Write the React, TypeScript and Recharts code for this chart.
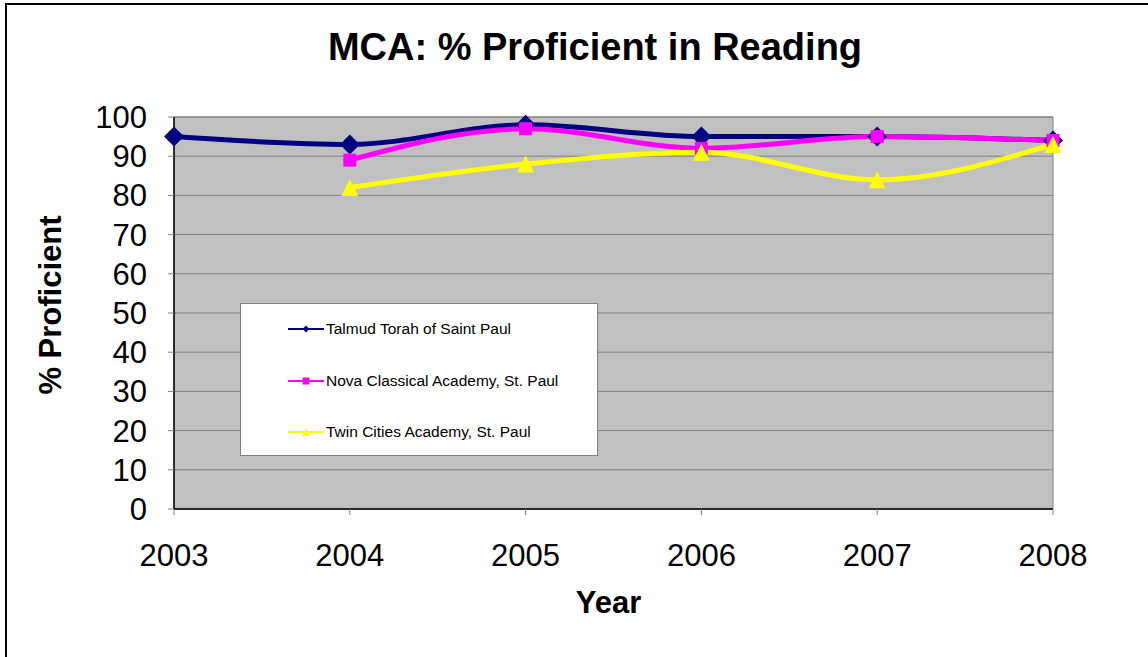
import React from "react"
import {
  CartesianGrid,
  Label,
  Legend,
  Line,
  LineChart,
  ReferenceArea,
  XAxis,
  YAxis,
} from "recharts"

const years = ["2003", "2004", "2005", "2006", "2007", "2008"]
const talmudTorah = [95, 93, 98, 95, 95, 94]
const novaClassical = [null, 89, 97, 92, 95, 94]
const twinCities = [null, 82, 88, 91, 84, 93]
const yTicks = [0, 10, 20, 30, 40, 50, 60, 70, 80, 90, 100]

const seriesInfo = [
  { key: "talmud", name: "Talmud Torah of Saint Paul", color: "#000080", marker: "diamond" },
  { key: "nova", name: "Nova Classical Academy, St. Paul", color: "#FF00FF", marker: "square" },
  { key: "twin", name: "Twin Cities Academy, St. Paul", color: "#FFFF00", marker: "triangle" },
]

const chartData = years.map((year, i) => ({
  year,
  talmud: talmudTorah[i],
  nova: novaClassical[i],
  twin: twinCities[i],
}))

function markerPath(kind: string, cx: number, cy: number, s: number) {
  const h = s / 2
  if (kind === "diamond") return `M${cx},${cy - h}L${cx + h},${cy}L${cx},${cy + h}L${cx - h},${cy}Z`
  if (kind === "square") return `M${cx - h},${cy - h}h${s}v${s}h${-s}Z`
  return `M${cx},${cy - h}L${cx + h},${cy + h}L${cx - h},${cy + h}Z`
}

function makeDot(kind: string, color: string, size: number) {
  return (props: any) => {
    const { cx, cy, index } = props
    if (cx == null || cy == null || props.value == null) return <g key={`d-${kind}-${index}`} />
    return <path key={`d-${kind}-${index}`} d={markerPath(kind, cx, cy, size)} fill={color} />
  }
}

function LegendBox() {
  return (
    <div
      style={{
        width: 358,
        height: 153,
        boxSizing: "border-box",
        background: "#fff",
        border: "1px solid #808080",
        position: "relative",
      }}
    >
      {seriesInfo.map((s, i) => (
        <div
          key={s.key}
          style={{
            position: "absolute",
            left: 47,
            top: 25 + i * 51.5 - 10,
            height: 20,
            display: "flex",
            alignItems: "center",
            fontSize: 15.5,
            color: "#000",
            whiteSpace: "nowrap",
          }}
        >
          <svg width={36} height={12} style={{ marginRight: 2 }}>
            <line x1={0} y1={6} x2={36} y2={6} stroke={s.color} strokeWidth={2} />
            <path d={markerPath(s.marker, 18, 6, s.marker === "triangle" ? 8 : 7)} fill={s.color} />
          </svg>
          {s.name}
        </div>
      ))}
    </div>
  )
}

export default function App() {
  return (
    <div
      style={{
        position: "absolute",
        left: 0,
        top: 0,
        width: 1148,
        height: 657,
        overflow: "hidden",
        background: "#fff",
        fontFamily: "'Liberation Sans', Arial, sans-serif",
      }}
    >
      <div
        style={{
          position: "absolute",
          left: 5,
          top: 3,
          width: 2000,
          height: 2000,
          borderTop: "2px solid #000",
          borderLeft: "2px solid #000",
        }}
      />
      <div
        style={{
          position: "absolute",
          left: 0,
          top: 25,
          width: 1190,
          textAlign: "center",
          fontSize: 38,
          lineHeight: "44px",
          fontWeight: "bold",
          color: "#000",
        }}
      >
        MCA: % Proficient in Reading
      </div>
      <LineChart
        width={1148}
        height={657}
        data={chartData}
        margin={{ top: 117, right: 95, bottom: 0, left: 0 }}
      >
        <CartesianGrid vertical={false} stroke="#808080" fill="#C0C0C0" fillOpacity={1} />
        <ReferenceArea
          x1="2003"
          x2="2008"
          y1={0}
          y2={100}
          fill="none"
          fillOpacity={0}
          stroke="#808080"
          strokeWidth={1}
        />
        <XAxis
          dataKey="year"
          height={148}
          axisLine={{ stroke: "#000", strokeWidth: 1.5 }}
          tickLine={{ stroke: "#808080" }}
          tickSize={6}
          tickMargin={29}
          tick={{ fontSize: 31, fill: "#000" }}
          interval={0}
        >
          <Label
            content={(p: any) => {
              const vb = p.viewBox
              return (
                <text
                  x={vb.x + vb.width / 2 - 5}
                  y={vb.y + 104}
                  textAnchor="middle"
                  fontSize={31}
                  fontWeight="bold"
                  fill="#000"
                >
                  Year
                </text>
              )
            }}
          />
        </XAxis>
        <YAxis
          width={174}
          domain={[0, 100]}
          ticks={yTicks}
          interval={0}
          axisLine={{ stroke: "#000", strokeWidth: 1.5 }}
          tickLine={{ stroke: "#808080" }}
          tickSize={6}
          tickMargin={21}
          tick={{ fontSize: 31, fill: "#000" }}
        >
          <Label
            content={(p: any) => {
              const vb = p.viewBox
              const cx = vb.x + 50
              const cy = vb.y + vb.height / 2 - 8
              return (
                <text
                  x={cx}
                  y={cy}
                  transform={`rotate(-90, ${cx}, ${cy})`}
                  textAnchor="middle"
                  dominantBaseline="central"
                  fontSize={31}
                  fontWeight="bold"
                  fill="#000"
                >
                  % Proficient
                </text>
              )
            }}
          />
        </YAxis>
        <Legend
          layout="horizontal"
          verticalAlign="middle"
          align="center"
          wrapperStyle={{ position: "absolute", left: 240, top: 303, width: 358, height: 153 }}
          content={() => <LegendBox />}
        />
        <Line
          type="monotone"
          dataKey="talmud"
          name={seriesInfo[0].name}
          stroke="#000080"
          strokeWidth={5}
          dot={makeDot("diamond", "#000080", 20)}
          activeDot={false}
          isAnimationActive={false}
        />
        <Line
          type="monotone"
          dataKey="nova"
          name={seriesInfo[1].name}
          stroke="#FF00FF"
          strokeWidth={5}
          dot={makeDot("square", "#FF00FF", 13)}
          activeDot={false}
          isAnimationActive={false}
        />
        <Line
          type="monotone"
          dataKey="twin"
          name={seriesInfo[2].name}
          stroke="#FFFF00"
          strokeWidth={5}
          dot={makeDot("triangle", "#FFFF00", 17)}
          activeDot={false}
          isAnimationActive={false}
        />
      </LineChart>
    </div>
  )
}
